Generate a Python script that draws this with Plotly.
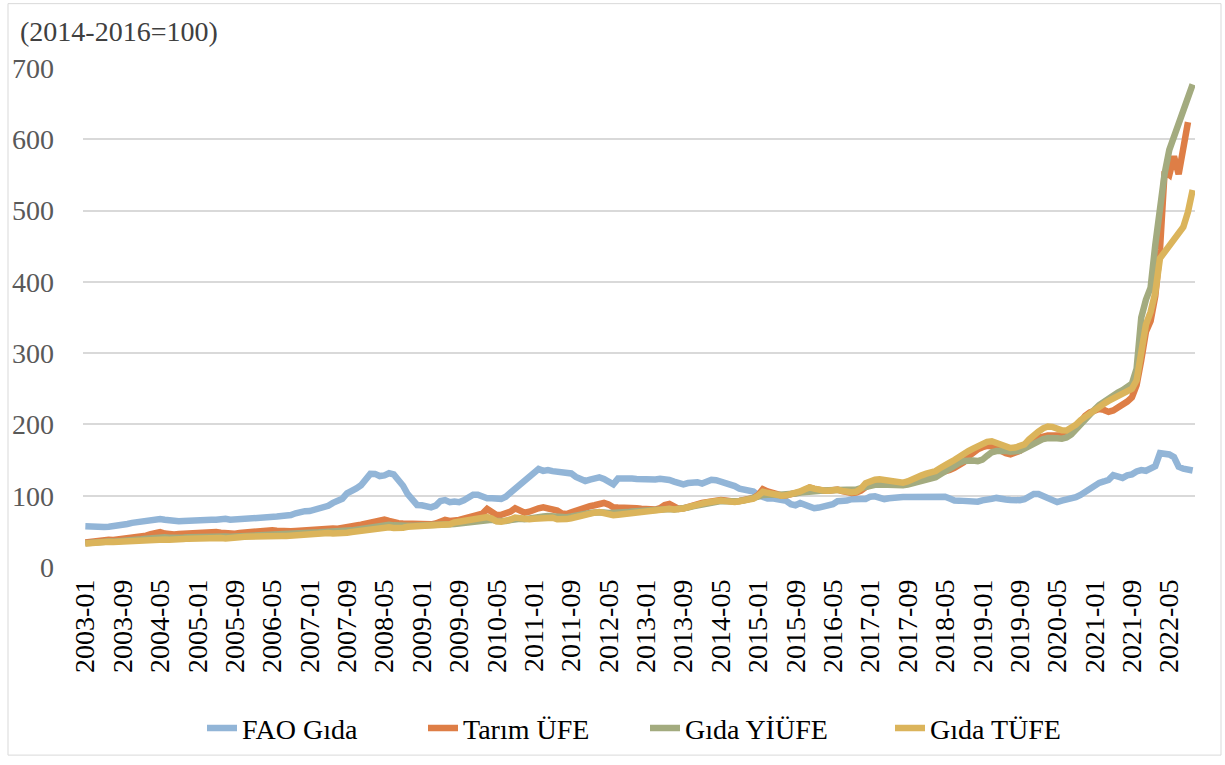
import plotly.graph_objects as go

# ---------------- data (2014-2016 = 100), monthly 2003-01 .. 2022-10 ----------------
months = [f"{y}-{m:02d}" for y in range(2003, 2023) for m in range(1, 13)][:238]

fao_gida = [
    57.0, 56.2, 55.6, 55.8, 56.0, 56.6, 57.0, 57.8, 58.8, 60.4, 61.9, 62.7,
    63.9, 65.3, 66.9, 67.7, 67.3, 66.3, 64.9, 64.8, 64.2, 64.6, 65.2, 65.5,
    65.4, 65.0, 66.3, 66.4, 66.2, 67.2, 67.5, 66.2, 66.5, 68.0, 68.5, 69.3,
    69.3, 69.8, 68.5, 68.3, 70.2, 70.8, 71.6, 71.7, 72.9, 75.3, 77.5, 78.3,
    78.5, 80.2, 80.9, 81.9, 85.9, 89.9, 92.5, 95.8, 103.3, 106.0, 110.2, 114.7,
    122.0, 130.7, 130.6, 127.6, 128.5, 131.5, 130.0, 121.9, 114.0, 102.1, 92.8, 87.0,
    86.6, 84.0, 83.6, 86.1, 92.6, 93.8, 91.0, 92.0, 90.9, 93.6, 98.3, 101.4,
    101.4, 98.3, 96.4, 96.4, 96.6, 95.6, 98.7, 104.5, 110.1, 116.5, 121.3, 127.1,
    134.4, 137.6, 134.9, 135.9, 134.5, 134.2, 133.5, 133.5, 131.2, 126.4, 123.8, 120.6,
    122.6, 125.4, 125.8, 123.4, 118.9, 116.0, 124.0, 124.6, 124.6, 124.0, 123.6, 122.9,
    123.3, 123.3, 122.9, 123.6, 123.8, 122.1, 119.9, 117.0, 116.0, 117.8, 118.5, 119.0,
    117.0, 119.7, 122.4, 121.7, 119.8, 119.1, 116.7, 113.5, 110.0, 109.0, 108.7, 105.8,
    100.7, 98.3, 96.0, 96.3, 95.1, 93.3, 92.9, 88.2, 86.6, 89.7, 87.5, 85.1,
    82.4, 83.4, 85.1, 86.6, 88.1, 92.2, 91.7, 93.2, 95.1, 96.2, 95.4, 95.4,
    98.7, 99.1, 96.3, 95.3, 96.5, 97.4, 98.9, 98.1, 98.1, 98.2, 98.4, 97.3,
    97.5, 98.3, 98.4, 98.4, 98.7, 96.0, 93.3, 93.1, 92.4, 92.9, 91.8, 91.6,
    93.5, 95.7, 95.6, 96.9, 96.9, 94.8, 94.1, 93.1, 93.7, 95.0, 98.6, 102.5,
    102.5, 99.4, 95.1, 92.4, 91.0, 93.1, 94.0, 95.9, 97.8, 101.0, 105.5, 108.6,
    114.5, 118.0, 120.0, 122.3, 128.8, 126.0, 125.0, 128.5, 130.0, 134.0, 136.0, 135.0,
    137.5, 141.5, 159.7, 158.6, 157.9, 154.2, 140.7, 138.0, 136.0, 135.4,
]

tarim_ufe = [
    34.4, 35.6, 36.6, 37.6, 38.4, 38.2, 38.0, 38.6, 39.6, 40.4, 41.0, 41.8,
    42.8, 44.0, 46.0, 48.6, 49.0, 47.0, 45.8, 45.6, 46.2, 46.8, 47.0, 47.2,
    47.6, 48.2, 48.8, 49.2, 49.0, 48.0, 47.0, 46.6, 46.8, 47.6, 48.4, 49.0,
    49.6, 50.2, 50.6, 51.2, 51.6, 51.0, 50.2, 49.8, 50.0, 50.6, 51.2, 51.6,
    52.2, 52.8, 53.6, 54.4, 54.6, 54.0, 53.8, 54.4, 55.6, 57.0, 58.2, 59.4,
    60.6, 62.0, 63.6, 65.6, 66.4, 64.6, 62.4, 61.4, 61.0, 60.6, 60.2, 60.0,
    60.0, 59.6, 59.8, 61.0, 64.0, 66.0, 64.6, 64.4, 66.0, 68.0, 69.8, 70.6,
    72.0, 75.0, 81.4, 76.0, 73.0, 73.2, 75.0, 77.6, 82.4, 79.0, 76.2, 77.6,
    80.6, 82.4, 83.8, 82.6, 81.0, 79.2, 75.0, 74.4, 76.6, 79.2, 81.6, 83.8,
    85.2, 86.6, 87.2, 89.8, 87.6, 83.8, 83.4, 83.6, 83.8, 83.4, 82.4, 81.6,
    80.6, 80.2, 80.6, 82.6, 87.0, 88.4, 84.0, 81.6, 82.4, 84.6, 86.4, 88.4,
    89.8, 91.0, 92.4, 93.4, 94.0, 93.2, 91.8, 91.6, 92.6, 94.0, 95.0, 96.8,
    101.0, 109.0, 106.0, 103.4, 101.0, 100.4, 100.6, 101.6, 103.0, 105.0, 108.0, 111.6,
    109.6, 107.6, 107.0, 107.0, 108.4, 108.6, 106.6, 104.6, 104.0, 104.6, 107.0, 112.0,
    116.0, 118.6, 119.6, 118.6, 117.4, 116.0, 115.4, 115.6, 117.4, 120.6, 123.6, 125.6,
    127.0, 128.6, 130.0, 131.6, 133.6, 136.0, 139.0, 142.0, 147.0, 155.0, 160.6, 165.0,
    168.0, 170.0, 169.6, 166.0, 162.0, 159.6, 158.0, 159.4, 163.0, 168.0, 174.0, 178.6,
    181.0, 183.6, 184.4, 184.6, 184.0, 184.6, 185.6, 188.6, 195.0, 205.0, 212.0, 217.0,
    219.0, 221.6, 220.4, 217.6, 219.6, 223.0, 227.0, 232.0, 238.0, 255.0, 290.0, 330.0,
    345.0, 380.0, 445.0, 555.0, 550.0, 576.0, 551.0, 592.0, 624.0, None,
]

gida_yiufe = [
    33.2, 34.0, 34.8, 35.6, 36.0, 35.8, 35.6, 35.8, 36.4, 37.0, 37.6, 38.2,
    38.8, 39.6, 40.4, 41.4, 42.0, 41.6, 41.0, 40.6, 40.8, 41.4, 41.8, 42.2,
    42.6, 43.0, 43.4, 43.8, 43.8, 43.2, 42.8, 42.6, 42.8, 43.2, 43.6, 44.0,
    44.2, 44.6, 45.0, 45.6, 46.2, 46.4, 46.0, 45.8, 46.0, 46.4, 46.8, 47.2,
    47.6, 48.0, 48.6, 49.2, 49.4, 49.2, 48.8, 49.2, 50.2, 51.4, 52.4, 53.4,
    54.6, 56.0, 57.6, 59.0, 59.6, 59.2, 58.4, 57.6, 57.4, 57.8, 58.0, 58.0,
    58.2, 58.6, 59.0, 59.6, 60.0, 59.8, 59.8, 60.4, 61.4, 62.6, 63.6, 64.2,
    64.8, 65.6, 66.6, 66.4, 64.6, 64.0, 64.4, 65.8, 67.4, 67.6, 67.0, 67.4,
    68.4, 69.6, 70.8, 71.4, 70.6, 69.6, 69.4, 69.8, 70.8, 72.4, 74.0, 75.2,
    75.8, 76.4, 77.0, 76.6, 75.8, 75.6, 76.0, 76.4, 77.0, 77.8, 78.4, 78.8,
    79.4, 80.0, 80.8, 81.2, 81.6, 81.2, 80.8, 81.0, 82.0, 83.4, 85.0, 86.6,
    88.2, 89.6, 91.0, 92.0, 92.6, 92.2, 91.6, 91.8, 92.6, 93.6, 94.6, 96.2,
    98.6, 101.0, 101.8, 101.6, 101.0, 101.0, 101.4, 102.2, 103.2, 104.4, 105.4, 106.4,
    107.0, 107.2, 107.4, 107.6, 107.8, 107.6, 107.2, 107.0, 107.4, 108.6, 110.6, 113.0,
    114.6, 115.4, 115.8, 115.4, 114.8, 114.2, 114.2, 114.6, 115.6, 117.0, 118.4, 119.6,
    121.0, 123.0, 126.0, 130.0, 134.6, 138.0, 141.6, 146.0, 148.6, 150.0, 149.4, 148.6,
    150.6, 156.0, 161.0, 162.6, 163.6, 163.0, 161.6, 161.4, 163.0, 166.0, 170.0, 174.0,
    177.0, 179.6, 181.0, 181.6, 180.6, 180.0, 181.6, 186.0, 193.0, 203.0, 210.0, 216.0,
    221.0, 227.0, 232.0, 237.0, 241.0, 244.6, 248.0, 253.0, 257.0, 278.0, 350.0, 375.0,
    392.0, 452.0, 510.0, 552.0, 585.0, 603.0, 625.0, 640.0, 660.0, 677.0,
]

gida_tufe = [
    33.0, 33.8, 34.5, 35.2, 35.6, 35.3, 35.2, 35.6, 36.4, 37.0, 37.4, 37.8,
    38.2, 38.5, 38.6, 39.0, 39.3, 38.7, 38.2, 38.0, 38.6, 39.4, 39.8, 40.2,
    40.6, 40.8, 41.0, 41.4, 41.4, 40.6, 40.0, 40.0, 40.8, 41.8, 42.4, 42.8,
    43.2, 43.4, 43.6, 44.2, 44.6, 44.0, 43.4, 43.4, 44.0, 45.0, 45.6, 46.0,
    46.4, 46.8, 47.2, 47.8, 47.8, 47.0, 46.6, 47.0, 48.0, 49.2, 50.0, 50.6,
    51.6, 53.0, 54.6, 56.0, 56.4, 55.6, 54.6, 54.4, 55.2, 56.4, 56.8, 57.2,
    57.6, 57.8, 58.2, 59.0, 59.2, 59.0, 60.0, 62.4, 63.6, 64.6, 65.6, 66.2,
    67.2, 68.6, 70.0, 68.0, 64.2, 63.4, 64.4, 66.6, 69.4, 68.6, 66.8, 67.0,
    67.8, 68.6, 69.6, 70.6, 69.2, 67.0, 66.6, 67.2, 68.4, 70.0, 72.6, 74.6,
    75.4, 76.2, 77.0, 75.2, 72.4, 72.6, 73.4, 74.2, 75.6, 77.0, 78.0, 78.4,
    79.6, 80.6, 81.4, 81.8, 82.6, 81.6, 80.6, 80.6, 82.0, 84.0, 86.4, 88.0,
    89.0, 90.4, 91.6, 92.6, 93.2, 92.4, 91.2, 91.2, 92.2, 93.6, 94.4, 96.0,
    100.0, 105.4, 104.0, 102.4, 100.4, 100.0, 100.6, 101.8, 103.6, 106.0, 109.0, 111.6,
    110.0, 108.0, 107.4, 107.0, 108.0, 108.2, 106.8, 105.0, 104.8, 105.6, 110.0, 117.6,
    121.0, 122.4, 123.0, 122.0, 121.0, 119.6, 118.8, 118.4, 120.0, 123.6, 126.6, 128.6,
    131.0, 132.6, 134.6, 139.0, 144.0, 146.4, 150.0, 155.0, 158.6, 162.6, 166.0, 169.6,
    173.0, 175.6, 176.4, 173.6, 171.0, 169.4, 167.0, 167.6, 170.0, 172.0, 179.0, 185.6,
    190.0, 194.6, 197.0, 196.6, 193.0, 191.8, 191.6, 195.0, 199.6, 206.0, 211.0, 215.0,
    220.0, 224.6, 229.0, 233.0, 236.0, 239.0, 243.0, 246.6, 250.0, 262.0, 300.0, 340.0,
    358.0, 385.0, 433.0, 442.0, 452.0, 461.0, 468.0, 477.0, 498.0, 529.0,
]

series_names = ["FAO Gıda", "Tarım ÜFE", "Gıda YİÜFE", "Gıda TÜFE"]
series_values = [fao_gida, tarim_ufe, gida_yiufe, gida_tufe]
series_colors = ["#92B5D7", "#DE7E46", "#A3AB7F", "#DBB45B"]
legend_widths = [176, 177, 200, 135]

y_ticks = [0, 100, 200, 300, 400, 500, 600, 700]
x_tick_labels = months[::8]
unit_label = "(2014-2016=100)"

# ---------------- figure ----------------
W, H = 1225, 765
ML, MR, MT, MB = 83, 30, 68, 193
PW, PH = W - ML - MR, H - MT - MB
FONT = "Liberation Serif"

fig = go.Figure()
for name, vals, col, lw in zip(series_names, series_values, series_colors, legend_widths):
    fig.add_trace(go.Scatter(
        x=months, y=vals, name=name, mode="lines",
        line=dict(color=col, width=6.5),
        connectgaps=False, legendwidth=lw,
    ))

def px_x(p):
    return (p - ML) / PW

def px_y(p):
    return (H - MB - p) / PH

fig.update_layout(
    width=W, height=H,
    margin=dict(l=ML, r=MR, t=MT, b=MB, pad=0),
    paper_bgcolor="white", plot_bgcolor="white",
    font=dict(family=FONT, color="#595959", size=28),
    showlegend=True,
    legend=dict(
        orientation="h", x=px_x(202), xanchor="left", y=px_y(735), yanchor="middle",
        font=dict(family=FONT, size=28, color="#000000"),
        bgcolor="rgba(0,0,0,0)", itemwidth=30, traceorder="normal",
        entrywidthmode="pixels",
    ),
    xaxis=dict(
        type="category", range=[-0.5, len(months) - 0.5],
        tickmode="array", tickvals=x_tick_labels, ticktext=x_tick_labels,
        tickangle=-90, tickfont=dict(family=FONT, size=28, color="#000000"),
        showgrid=False, zeroline=False, showline=False, ticks="",
        ticklabelstandoff=6,
    ),
    yaxis=dict(
        range=[0, 700], tickmode="array", tickvals=y_ticks,
        tickfont=dict(family=FONT, size=28, color="#595959"),
        showgrid=True, gridcolor="#D9D9D9", gridwidth=1.5,
        zeroline=False, showline=False, ticks="",
        ticklabelstandoff=28,
    ),
    annotations=[dict(
        text=unit_label, xref="paper", yref="paper",
        x=px_x(18), y=px_y(31), xanchor="left", yanchor="middle",
        showarrow=False, font=dict(family=FONT, size=28, color="#404040"),
    )],
    shapes=[dict(
        type="rect", xref="paper", yref="paper",
        x0=px_x(8), x1=px_x(1221), y0=px_y(762), y1=px_y(3),
        line=dict(color="#D9D9D9", width=1), fillcolor="rgba(0,0,0,0)", layer="below",
    )],
)

# remove the browser's default 8px body margin so the figure sits at the page origin
fig.write_html(
    "out.html",
    config={"displayModeBar": False},
    post_script="document.body.style.margin='0';document.body.style.overflow='hidden';",
)
